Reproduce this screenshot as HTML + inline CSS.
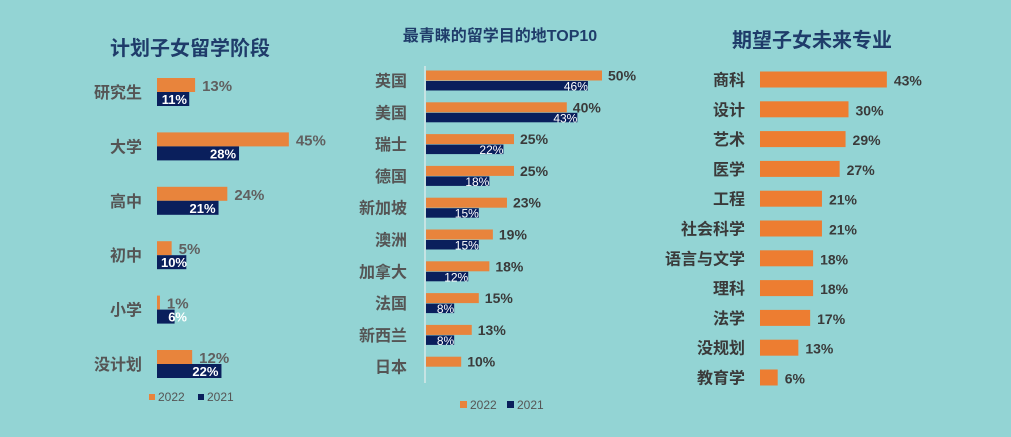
<!DOCTYPE html>
<html><head><meta charset="utf-8">
<style>
html,body{margin:0;padding:0;background:#93d4d4;}
svg{display:block;font-family:"Liberation Sans","Noto Sans CJK SC",sans-serif;}
</style></head>
<body>
<svg id="s" width="1011" height="437" viewBox="0 0 1011 437">
<rect width="1011" height="437" fill="#93d4d4"/>
<text x="190" y="55" text-anchor="middle" font-size="20" font-weight="bold" fill="#1f3c6a">计划子女留学阶段</text>
<text x="500" y="41" text-anchor="middle" font-size="16" font-weight="bold" fill="#1f3c6a">最青睐的留学目的地TOP10</text>
<text x="812" y="47" text-anchor="middle" font-size="20" font-weight="bold" fill="#1f3c6a">期望子女未来专业</text>
<line x1="425" y1="66" x2="425" y2="383" stroke="#d8e8e8" stroke-width="1.5"/>
<g id="c1"></g><g id="c2"></g><g id="c3"></g>
<g>
<rect x="149" y="394" width="6" height="6" fill="#e8843c"/><text x="158" y="401" font-size="12" fill="#555">2022</text>
<rect x="198" y="394" width="6" height="6" fill="#0a1f5c"/><text x="207" y="401" font-size="12" fill="#555">2021</text>
</g>
<g>
<rect x="460" y="401" width="7" height="7" fill="#e8843c"/><text x="470" y="409" font-size="12" fill="#555">2022</text>
<rect x="507" y="401" width="7" height="7" fill="#0a1f5c"/><text x="517" y="409" font-size="12" fill="#555">2021</text>
</g>
</svg>
<script>
const c1Cats=["研究生","大学","高中","初中","小学","没计划"];
const c1Y2022=[13,45,24,5,1,12];
const c1Y2021=[11,28,21,10,6,22];
const c2Cats=["英国","美国","瑞士","德国","新加坡","澳洲","加拿大","法国","新西兰","日本"];
const c2Y2022=[50,40,25,25,23,19,18,15,13,10];
const c2Y2021=[46,43,22,18,15,15,12,8,8,null];
const c3Cats=["商科","设计","艺术","医学","工程","社会科学","语言与文学","理科","法学","没规划","教育学"];
const c3Vals=[43,30,29,27,21,21,18,18,17,13,6];
const NS="http://www.w3.org/2000/svg";
function mk(p,tag,a,txt){const e=document.createElementNS(NS,tag);for(const k in a)e.setAttribute(k,a[k]);if(txt!=null)e.textContent=txt;p.appendChild(e);return e;}
const OR="#e8843c",NV="#0a1f5c";
// chart 1
const g1=document.getElementById('c1');
const x1=v=>157+v*2.93, y1=i=>92+i*54.4;
c1Cats.forEach((c,i)=>{const y=y1(i);
 let t=mk(g1,'text',{x:142,y:y+6,'text-anchor':'end','font-size':16,'font-weight':'bold',fill:'#555'},c);
 
 let r=mk(g1,'rect',{x:157,y:y-14,width:x1(c1Y2022[i])-157,height:14,fill:OR});
 
 t=mk(g1,'text',{x:x1(c1Y2022[i])+7,y:y-1,'font-size':15,'font-weight':'bold',fill:'#606060'},c1Y2022[i]+'%');
 
 r=mk(g1,'rect',{x:157,y:y,width:x1(c1Y2021[i])-157,height:14,fill:NV});
 
 const ex=Math.max(x1(c1Y2021[i])-3,157+30);
 t=mk(g1,'text',{x:ex,y:y+12,'text-anchor':'end','font-size':13,'font-weight':'bold',fill:'#fff'},c1Y2021[i]+'%');
 
});
// chart 2
const g2=document.getElementById('c2');
const x2=v=>426+v*3.52, y2=i=>80.5+i*31.8;
c2Cats.forEach((c,i)=>{const y=y2(i);
 let t=mk(g2,'text',{x:407,y:y+6,'text-anchor':'end','font-size':16,'font-weight':'bold',fill:'#555'},c);
 
 let r=mk(g2,'rect',{x:426,y:y-10,width:x2(c2Y2022[i])-426,height:10,fill:OR});
 
 t=mk(g2,'text',{x:x2(c2Y2022[i])+6,y:y,'font-size':14,'font-weight':'bold',fill:'#3a3a3a'},c2Y2022[i]+'%');
 
 if(c2Y2021[i]!=null){
 r=mk(g2,'rect',{x:426,y:y+0.5,width:x2(c2Y2021[i])-426,height:9.5,fill:NV});
 
 t=mk(g2,'text',{x:Math.max(x2(c2Y2021[i]),450),y:y+10,'text-anchor':'end','font-size':12,fill:'#fff'},c2Y2021[i]+'%');
 }
});
// chart 3
const g3=document.getElementById('c3');
const x3=v=>760+v*2.95, y3=i=>79.5+i*29.8;
c3Cats.forEach((c,i)=>{const y=y3(i);
 let t=mk(g3,'text',{x:745,y:y+6,'text-anchor':'end','font-size':16,'font-weight':'bold',fill:'#3a3a3a'},c);
 
 let r=mk(g3,'rect',{x:760,y:y-8,width:x3(c3Vals[i])-760,height:16,fill:'#ed7d31'});
 
 t=mk(g3,'text',{x:x3(c3Vals[i])+7,y:y+6,'font-size':14,'font-weight':'bold',fill:'#3a3a3a'},c3Vals[i]+'%');
 
});
</script>
</body></html>
